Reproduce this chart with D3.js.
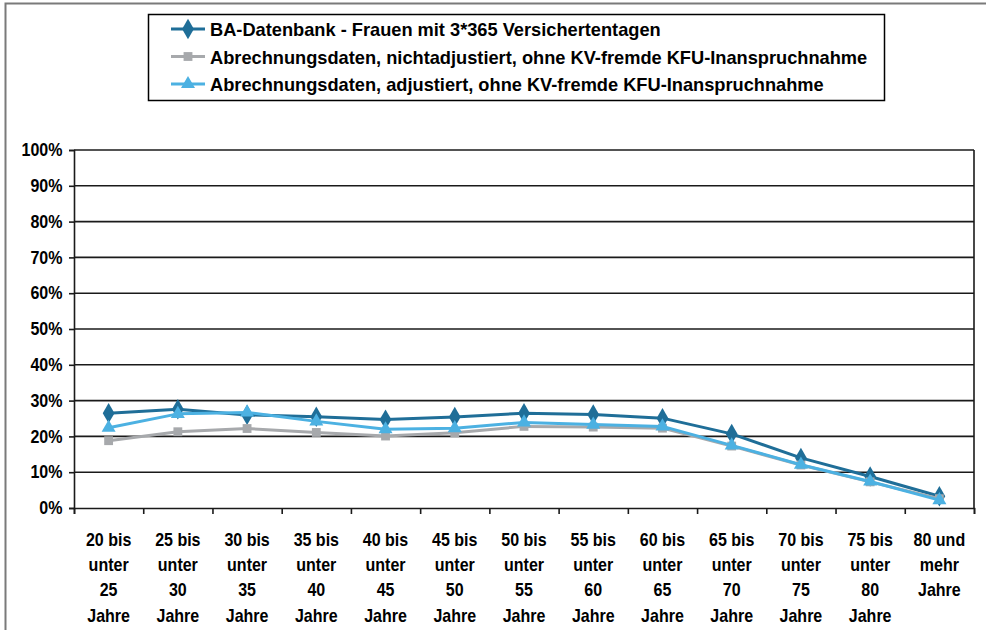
<!DOCTYPE html>
<html lang="de">
<head>
<meta charset="UTF-8">
<title>Frauen mit 3*365 Versichertentagen</title>
<script src="https://d3js.org/d3.v7.min.js"></script>
<style>
    body { margin: 0; background: #fff; }
    svg { display: block; }
    text { font-family: "Liberation Sans", Arial, sans-serif; font-weight: bold; fill: #000; }
</style>
</head>
<body>
<svg id="chart"></svg>
<script>
// age groups, one entry per line of the axis label
const categories = [
    ["20 bis", "unter", "25", "Jahre"],
    ["25 bis", "unter", "30", "Jahre"],
    ["30 bis", "unter", "35", "Jahre"],
    ["35 bis", "unter", "40", "Jahre"],
    ["40 bis", "unter", "45", "Jahre"],
    ["45 bis", "unter", "50", "Jahre"],
    ["50 bis", "unter", "55", "Jahre"],
    ["55 bis", "unter", "60", "Jahre"],
    ["60 bis", "unter", "65", "Jahre"],
    ["65 bis", "unter", "70", "Jahre"],
    ["70 bis", "unter", "75", "Jahre"],
    ["75 bis", "unter", "80", "Jahre"],
    ["80 und", "mehr", "Jahre"]
];
const baDatenbank     = [26.5, 27.6, 26.0, 25.5, 24.7, 25.4, 26.5, 26.1, 25.1, 20.7, 14.0, 8.8, 3.3];
const nichtAdjustiert = [18.8, 21.3, 22.2, 21.1, 20.1, 21.0, 22.8, 22.6, 22.3, 17.3, 12.0, 7.3, 2.6];
const adjustiert      = [22.4, 26.3, 26.7, 24.2, 22.0, 22.3, 23.9, 23.3, 22.8, 17.5, 12.1, 7.4, 2.2];
const seriesNames = [
    "BA-Datenbank - Frauen mit 3*365 Versichertentagen",
    "Abrechnungsdaten, nichtadjustiert, ohne KV-fremde KFU-Inanspruchnahme",
    "Abrechnungsdaten, adjustiert, ohne KV-fremde KFU-Inanspruchnahme"
];
const yTicks = [0, 10, 20, 30, 40, 50, 60, 70, 80, 90, 100];

const width = 986, height = 630;
const plot = {left: 74, right: 974, top: 150, bottom: 508};
const squeeze = 0.89; // the source text is narrower than Arial

const series = [
    {name: seriesNames[0], values: baDatenbank, color: "#1f6e98", symbol: d3.symbolDiamond, size: 120},
    {name: seriesNames[1], values: nichtAdjustiert, color: "#a7a9ac", symbol: d3.symbolSquare, size: 78},
    {name: seriesNames[2], values: adjustiert, color: "#4cb1e2", symbol: d3.symbolTriangle, size: 85}
];

const svg = d3.select("#chart").attr("width", width).attr("height", height);

// outer frame (top and left edge of the pasted figure)
svg.append("path")
    .attr("d", `M5.5,${height} V3.5 H${width}`)
    .attr("fill", "none").attr("stroke", "#7a7a7a").attr("stroke-width", 2);

const x = d3.scaleBand().domain(d3.range(categories.length)).range([plot.left, plot.right]);
const xEdge = d3.scaleLinear().domain([0, categories.length]).range([plot.left, plot.right]);
const y = d3.scaleLinear().domain([0, 100]).range([plot.bottom, plot.top]);

// gridlines
svg.append("g").selectAll("line").data(yTicks.filter(d => d > 0)).join("line")
    .attr("x1", plot.left).attr("x2", plot.right)
    .attr("y1", d => y(d)).attr("y2", d => y(d))
    .attr("stroke", "#1a1a1a").attr("stroke-width", 1.6);

// right border of plot area
svg.append("line")
    .attr("x1", plot.right).attr("x2", plot.right).attr("y1", plot.top).attr("y2", plot.bottom)
    .attr("stroke", "#1a1a1a").attr("stroke-width", 1.6);

// y axis
const yAxis = svg.append("g")
    .attr("transform", `translate(${plot.left},0)`)
    .call(d3.axisLeft(y).tickValues(yTicks).tickSize(5).tickPadding(8).tickFormat(d => d + "%"));
yAxis.select(".domain").attr("stroke", "#1a1a1a").attr("stroke-width", 1.6);
yAxis.selectAll(".tick line").attr("stroke", "#1a1a1a").attr("stroke-width", 1.6);
yAxis.selectAll("text")
    .attr("font-size", 18).attr("font-family", null)
    .attr("transform", `scale(${squeeze},1)`);

// x axis: ticks between categories
const xAxis = svg.append("g")
    .attr("transform", `translate(0,${plot.bottom})`)
    .call(d3.axisBottom(xEdge).tickValues(d3.range(categories.length + 1)).tickSize(6).tickFormat(""));
xAxis.select(".domain").attr("stroke", "#1a1a1a").attr("stroke-width", 1.6);
xAxis.selectAll(".tick line").attr("stroke", "#1a1a1a").attr("stroke-width", 1.6);

const xLabels = svg.append("g").selectAll("g").data(categories).join("g")
    .attr("transform", (d, i) => `translate(${x(i) + x.bandwidth() / 2},545.5) scale(${squeeze},1)`);
xLabels.append("text")
    .attr("text-anchor", "middle").attr("font-size", 18)
    .selectAll("tspan").data(d => d).join("tspan")
    .attr("x", 0).attr("y", (d, i) => i * 25.5)
    .text(d => d);

// series lines and markers
const cx = i => x(i) + x.bandwidth() / 2;
const line = d3.line().x((d, i) => cx(i)).y(d => y(d));

series.forEach(s => {
    const g = svg.append("g");
    g.append("path")
        .attr("d", line(s.values))
        .attr("fill", "none").attr("stroke", s.color)
        .attr("stroke-width", 3).attr("stroke-linejoin", "round");
    g.selectAll("path.m").data(s.values).join("path")
        .attr("class", "m")
        .attr("transform", (d, i) => `translate(${cx(i)},${y(d)})`)
        .attr("d", d3.symbol().type(s.symbol).size(s.size))
        .attr("fill", s.color);
});

// legend
const legend = svg.append("g");
legend.append("rect")
    .attr("x", 148.5).attr("y", 14.5).attr("width", 736).attr("height", 86)
    .attr("fill", "#fff").attr("stroke", "#000").attr("stroke-width", 1.5);

const rows = legend.selectAll("g.row").data(series).join("g")
    .attr("class", "row")
    .attr("transform", (d, i) => `translate(0,${29 + i * 27.5})`);
rows.append("line")
    .attr("x1", 171).attr("x2", 205).attr("y1", 0).attr("y2", 0)
    .attr("stroke", d => d.color).attr("stroke-width", 3);
rows.append("path")
    .attr("transform", "translate(188,0)")
    .attr("d", d => d3.symbol().type(d.symbol).size(d.size)())
    .attr("fill", d => d.color);
rows.append("text")
    .attr("transform", "translate(210,7) scale(0.96,1)")
    .attr("font-size", 19)
    .text(d => d.name);
</script>
</body>
</html>
